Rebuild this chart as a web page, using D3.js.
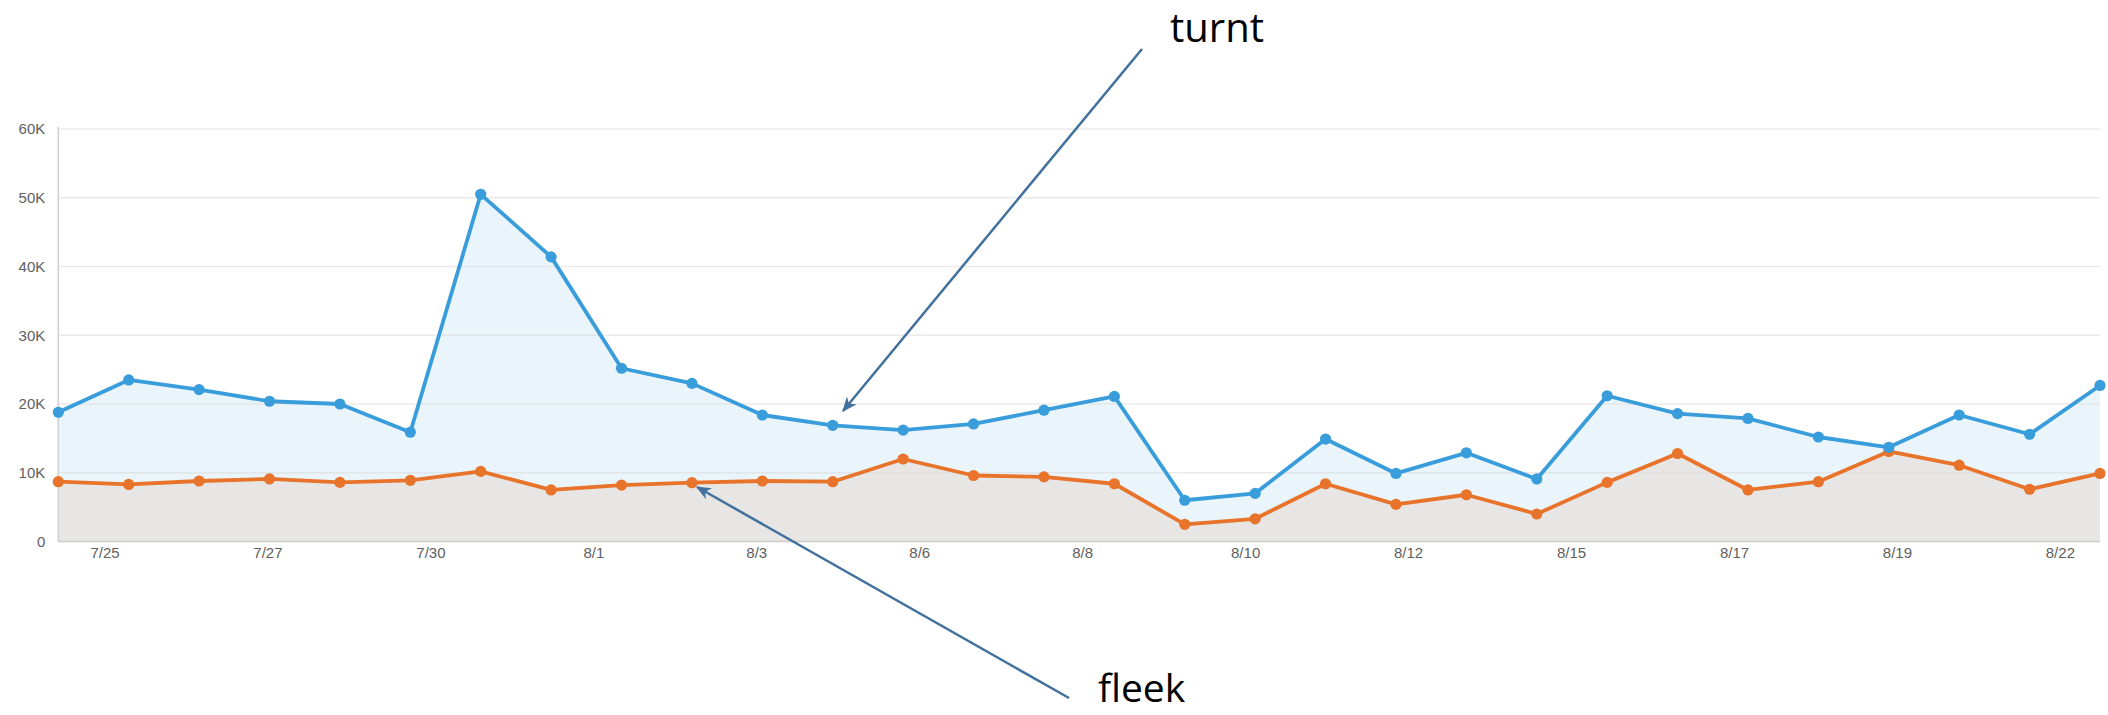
<!DOCTYPE html>
<html>
<head>
<meta charset="utf-8">
<script src="https://cdn.jsdelivr.net/npm/d3@7"></script>
<style>
  body { margin: 0; background: #fff; }
  svg { display: block; }
</style>
</head>
<body>
<svg></svg>
<script>
const width = 2108;
const height = 715;

// one point per day, 7/24 .. 8/22
const dates = ['7/24', '7/25', '7/26', '7/27', '7/28', '7/29', '7/30', '7/31',
  '8/1', '8/2', '8/3', '8/4', '8/5', '8/6', '8/7', '8/8', '8/9', '8/10', '8/11',
  '8/12', '8/13', '8/14', '8/15', '8/16', '8/17', '8/18', '8/19', '8/20', '8/21', '8/22'];
const turnt = [18800, 23500, 22100, 20400, 20000, 15900, 50500, 41400, 25200, 23000,
  18400, 16900, 16200, 17100, 19100, 21100, 6000, 7000, 14900, 9900,
  12900, 9100, 21200, 18600, 17900, 15200, 13700, 18400, 15600, 22700];
const fleek = [8700, 8300, 8800, 9100, 8600, 8900, 10200, 7500, 8200, 8550,
  8800, 8700, 12000, 9600, 9400, 8400, 2500, 3300, 8400, 5400,
  6800, 4000, 8600, 12800, 7500, 8700, 13100, 11100, 7600, 9900];
const tickLabels = ['7/25', '7/27', '7/30', '8/1', '8/3', '8/6', '8/8', '8/10',
  '8/12', '8/15', '8/17', '8/19', '8/22'];
const yTicks = [0, 10000, 20000, 30000, 40000, 50000, 60000];

const config = {
  left: 58.3,
  right: 2100,
  top: 129,
  bottom: 541.5,
  blue: '#3a9ddb',
  orange: '#e8732a',
  arrow: '#41719c'
};

const svg = d3.select('svg').attr('width', width).attr('height', height);

const x = d3.scaleLinear().domain([0, dates.length - 1]).range([config.left, config.right]);
const y = d3.scaleLinear().domain([0, 60000]).range([config.bottom, config.top]);
// date labels sit evenly spaced, not on the day points
const xLabels = d3.scalePoint().domain(tickLabels).range([x(0.656), x(28.43)]);

const defs = svg.append('defs');
defs.append('marker')
    .attr('id', 'head')
    .attr('viewBox', '0 0 12 10')
    .attr('refX', 11).attr('refY', 5)
    .attr('markerWidth', 6).attr('markerHeight', 5)
    .attr('markerUnits', 'strokeWidth')
    .attr('orient', 'auto')
  .append('path')
    .attr('d', 'M0,0 L12,5 L0,10 L3.5,5 Z')
    .attr('fill', config.arrow);

const area = d3.area()
    .x((d, i) => x(i))
    .y0(y(0))
    .y1(d => y(d));
const line = d3.line()
    .x((d, i) => x(i))
    .y(d => y(d));

svg.append('path').datum(turnt).attr('d', area).attr('fill', '#e9f4fb');
svg.append('path').datum(fleek).attr('d', area).attr('fill', '#e8e6e5');

// gridlines over the fills
svg.append('g')
  .selectAll('line')
  .data(yTicks.slice(1))
  .enter().append('line')
    .attr('x1', config.left).attr('x2', config.right)
    .attr('y1', d => y(d)).attr('y2', d => y(d))
    .style('stroke', '#dcdcdc')
    .style('stroke-opacity', 0.6)
    .style('stroke-width', 1.5);

svg.append('line')
    .attr('x1', config.left).attr('x2', config.left)
    .attr('y1', config.top - 2).attr('y2', config.bottom)
    .style('stroke', '#cfcfcf').style('stroke-width', 1.5);
svg.append('line')
    .attr('x1', config.left).attr('x2', config.right)
    .attr('y1', y(0)).attr('y2', y(0))
    .style('stroke', '#cccccc').style('stroke-width', 1.5);

function drawSeries(values, color) {
    svg.append('path')
        .datum(values)
        .attr('d', line)
        .style('fill', 'none')
        .style('stroke', color)
        .style('stroke-width', 3.8)
        .style('stroke-linejoin', 'round');
    svg.append('g')
      .selectAll('circle')
      .data(values)
      .enter().append('circle')
        .attr('cx', (d, i) => x(i))
        .attr('cy', d => y(d))
        .attr('r', 5.6)
        .attr('fill', color);
}
drawSeries(fleek, config.orange);
drawSeries(turnt, config.blue);

const yAxis = svg.append('g')
    .attr('transform', `translate(${config.left - 13},0)`)
    .call(d3.axisLeft(y).tickValues(yTicks).tickSize(0).tickPadding(0)
      .tickFormat(d => d === 0 ? '0' : d / 1000 + 'K'));
yAxis.select('.domain').remove();
yAxis.selectAll('text')
    .style('font-family', '"Liberation Sans", Arial, sans-serif')
    .style('font-size', '15px')
    .style('fill', '#606060');

const xAxis = svg.append('g')
    .attr('transform', `translate(0,${config.bottom})`)
    .call(d3.axisBottom(xLabels).tickSize(0).tickPadding(6));
xAxis.select('.domain').remove();
xAxis.selectAll('text')
    .style('font-family', '"Liberation Sans", Arial, sans-serif')
    .style('font-size', '15px')
    .style('fill', '#606060');

// annotations
const notes = [
  { label: 'turnt', tx: 1170, ty: 42, size: 40, from: [1142, 49], to: [843, 411] },
  { label: 'fleek', tx: 1098, ty: 702, size: 39, from: [1069, 698], to: [697, 487] }
];
notes.forEach(n => {
    svg.append('line')
        .attr('x1', n.from[0]).attr('y1', n.from[1])
        .attr('x2', n.to[0]).attr('y2', n.to[1])
        .style('stroke', config.arrow)
        .style('stroke-width', 2.5)
        .attr('marker-end', 'url(#head)');
    svg.append('text')
        .attr('x', n.tx).attr('y', n.ty)
        .text(n.label)
        .style('font-family', '"Open Sans", "Noto Sans", sans-serif')
        .style('font-size', n.size + 'px')
        .style('fill', '#000');
});
</script>
</body>
</html>
